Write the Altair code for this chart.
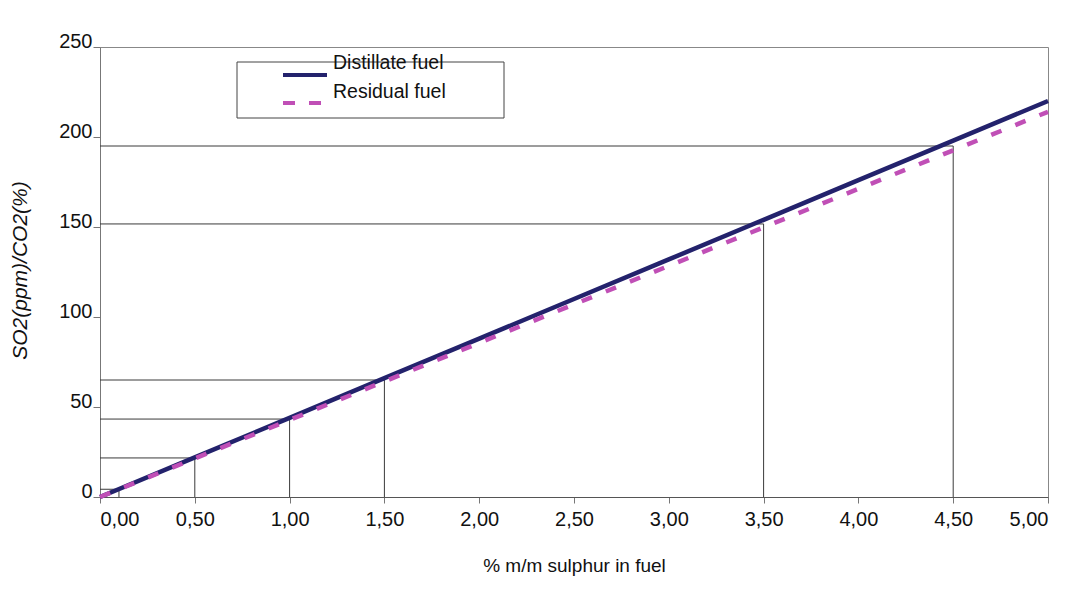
import altair as alt
import pandas as pd

# ---- data ----
series = ["Distillate fuel", "Residual fuel"]
sulphur = [0.0, 0.5, 1.0, 1.5, 2.0, 2.5, 3.0, 3.5, 4.0, 4.5, 5.0]
distillate = [0.0, 22.0, 44.0, 66.0, 88.0, 110.0, 132.0, 154.0, 176.0, 198.0, 220.0]
residual = [0.0, 21.4, 42.8, 64.2, 85.6, 107.0, 128.4, 149.8, 171.2, 192.6, 214.0]

ref_x = [0.1, 0.5, 1.0, 1.5, 3.5, 4.5]
ref_y = [4.3, 21.7, 43.3, 65.0, 151.7, 195.0]

x_ticks = [0.0, 0.5, 1.0, 1.5, 2.0, 2.5, 3.0, 3.5, 4.0, 4.5, 5.0]
y_ticks = [0, 50, 100, 150, 200, 250]

colors = ["#23226c", "#c04fb6"]

# ---- tables ----
df = pd.DataFrame({
    "x": sulphur * 2,
    "y": distillate + residual,
    "series": [series[0]] * len(sulphur) + [series[1]] * len(sulphur),
})
ref = pd.DataFrame({"x": ref_x, "y": ref_y, "x0": [0.0] * len(ref_x), "y0": [0.0] * len(ref_y)})

FONT = "Liberation Sans"

xs = alt.Scale(domain=[0, 5], nice=False)
ys = alt.Scale(domain=[0, 250], nice=False)

x_axis = alt.Axis(
    values=x_ticks, grid=False, title="% m/m sulphur in fuel",
    labelExpr="replace(format(datum.value, '.2f'), '.', ',')",
    labelFont=FONT, labelFontSize=20, labelColor="#111", labelPadding=6,
    tickSize=6, tickColor="#777", domainColor="#555",
    titleFont=FONT, titleFontSize=19, titleFontWeight="normal", titleColor="#111",
    titleX=474, titleY=68, titleBaseline="middle", titleAlign="center",
)
y_axis = alt.Axis(
    values=y_ticks, grid=False, title="SO2(ppm)/CO2(%)",
    labelFont=FONT, labelFontSize=20, labelColor="#111", labelPadding=1,
    labelBaseline="alphabetic",
    tickSize=7, tickColor="#777", domainColor="#777",
    titleFont=FONT, titleFontSize=21, titleFontWeight="normal", titleColor="#111",
    titleFontStyle="italic",
    titleX=-80, titleY=223, titleAngle=270, titleBaseline="middle", titleAlign="center",
)

h_rules = alt.Chart(ref).mark_rule(color="#3a3a3a", strokeWidth=1).encode(
    x=alt.X("x0:Q", scale=xs, axis=x_axis),
    x2="x:Q",
    y=alt.Y("y:Q", scale=ys, axis=y_axis),
)
v_rules = alt.Chart(ref).mark_rule(color="#3a3a3a", strokeWidth=1).encode(
    x=alt.X("x:Q", scale=xs),
    y=alt.Y("y0:Q", scale=ys),
    y2="y:Q",
)

dist_line = alt.Chart(df[df.series == series[0]]).mark_line(
    color=colors[0], strokeWidth=4.5
).encode(x=alt.X("x:Q", scale=xs), y=alt.Y("y:Q", scale=ys))

res_line = alt.Chart(df[df.series == series[1]]).mark_line(
    color=colors[1], strokeWidth=4.5, strokeDash=[11, 15]
).encode(x=alt.X("x:Q", scale=xs), y=alt.Y("y:Q", scale=ys))

# ---- manual legend box ----
one = pd.DataFrame({"a": [0]})
legend_box = alt.Chart(one).mark_rect(
    fill="white", stroke="#444", strokeWidth=1
).encode(x=alt.value(137), x2=alt.value(404), y=alt.value(15), y2=alt.value(71))
leg_line1 = alt.Chart(one).mark_rule(
    color=colors[0], strokeWidth=4
).encode(x=alt.value(183), x2=alt.value(227), y=alt.value(28))
leg_line2 = alt.Chart(one).mark_rule(
    color=colors[1], strokeWidth=4, strokeDash=[12, 14]
).encode(x=alt.value(183), x2=alt.value(222), y=alt.value(56))
leg_text1 = alt.Chart(one).mark_text(
    font=FONT, fontSize=19.5, align="left", baseline="middle", color="#111"
).encode(x=alt.value(233), y=alt.value(16), text=alt.value(series[0]))
leg_text2 = alt.Chart(one).mark_text(
    font=FONT, fontSize=19.5, align="left", baseline="middle", color="#111"
).encode(x=alt.value(233), y=alt.value(45), text=alt.value(series[1]))

chart = alt.layer(
    h_rules, v_rules, dist_line, res_line,
    legend_box, leg_line1, leg_line2, leg_text1, leg_text2,
).properties(
    width=948, height=450,
    autosize=alt.AutoSizeParams(type="none"),
    padding={"left": 92, "top": 39, "right": 16, "bottom": 90},
    background="white",
).configure_view(stroke="#888", strokeWidth=1)

chart.save("out.html", embed_options={"renderer": "svg", "actions": False})
